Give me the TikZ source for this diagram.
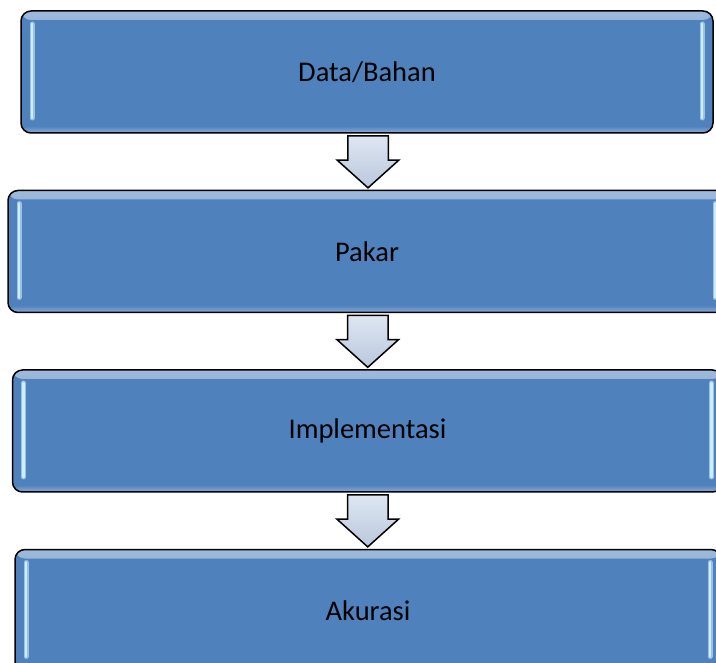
\documentclass[tikz,border=0pt]{standalone}
\usepackage{fontspec}
\setmainfont{Carlito}
\usetikzlibrary{shapes.arrows, positioning, calc}
\definecolor{boxblue}{RGB}{79,129,189}
\definecolor{glowblue}{RGB}{205,238,255}
\definecolor{arrowtop}{RGB}{222,230,242}
\definecolor{arrowbot}{RGB}{186,199,220}
\tikzstyle{stage} = [rectangle, rounded corners=10pt, minimum height=122pt, text centered, draw=black, line width=1.5pt, fill=boxblue, font=\fontsize{28.5}{34}\selectfont,
  path picture={
    \shade[top color=boxblue!55!white, bottom color=boxblue] (path picture bounding box.north west) rectangle ([yshift=-9pt]path picture bounding box.north east);
    \shade[bottom color=boxblue!65!white, top color=boxblue] (path picture bounding box.south west) rectangle ([yshift=7pt]path picture bounding box.south east);
    \draw[glowblue!60!boxblue, line width=5pt, line cap=round] ([xshift=11pt,yshift=-13pt]path picture bounding box.north west) -- ([xshift=11pt,yshift=15pt]path picture bounding box.south west);
    \draw[glowblue, line width=2.5pt, line cap=round] ([xshift=11pt,yshift=-13pt]path picture bounding box.north west) -- ([xshift=11pt,yshift=15pt]path picture bounding box.south west);
    \draw[glowblue!60!boxblue, line width=5pt, line cap=round] ([xshift=-11pt,yshift=-13pt]path picture bounding box.north east) -- ([xshift=-11pt,yshift=15pt]path picture bounding box.south east);
    \draw[glowblue, line width=2.5pt, line cap=round] ([xshift=-11pt,yshift=-13pt]path picture bounding box.north east) -- ([xshift=-11pt,yshift=15pt]path picture bounding box.south east);
  }]
\tikzstyle{downarrow} = [single arrow, shape border rotate=270, minimum height=52pt, single arrow head extend=10.5pt, single arrow tip angle=96, single arrow head indent=0pt, inner xsep=19.5pt, inner ysep=1pt, draw=black, line width=1.5pt, top color=arrowtop, bottom color=arrowbot]

\begin{document}
\begin{tikzpicture}[x=1pt, y=1pt, node distance=56pt]
\useasboundingbox (0,0) rectangle (716,-663);
\clip (0,0) rectangle (716,-663);

\node (data) [stage, minimum width=692pt] at (367,-72) {Data/Bahan};
\node (pakar) [stage, minimum width=718pt, below=of data] {Pakar};
\node (impl) [stage, minimum width=710pt, below=of pakar, xshift=0.5pt] {Implementasi};
\node (akurasi) [stage, minimum width=706pt, below=of impl, xshift=0.5pt] {Akurasi};

\node (a1) [downarrow] at ($(data.south)!0.5!(pakar.north)+(1,9)$) {};
\node (a2) [downarrow] at ($(pakar.south)!0.5!(impl.north)+(0.5,9)$) {};
\node (a3) [downarrow] at ($(impl.south)!0.5!(akurasi.north)+(0,9)$) {};
\end{tikzpicture}
\end{document}
